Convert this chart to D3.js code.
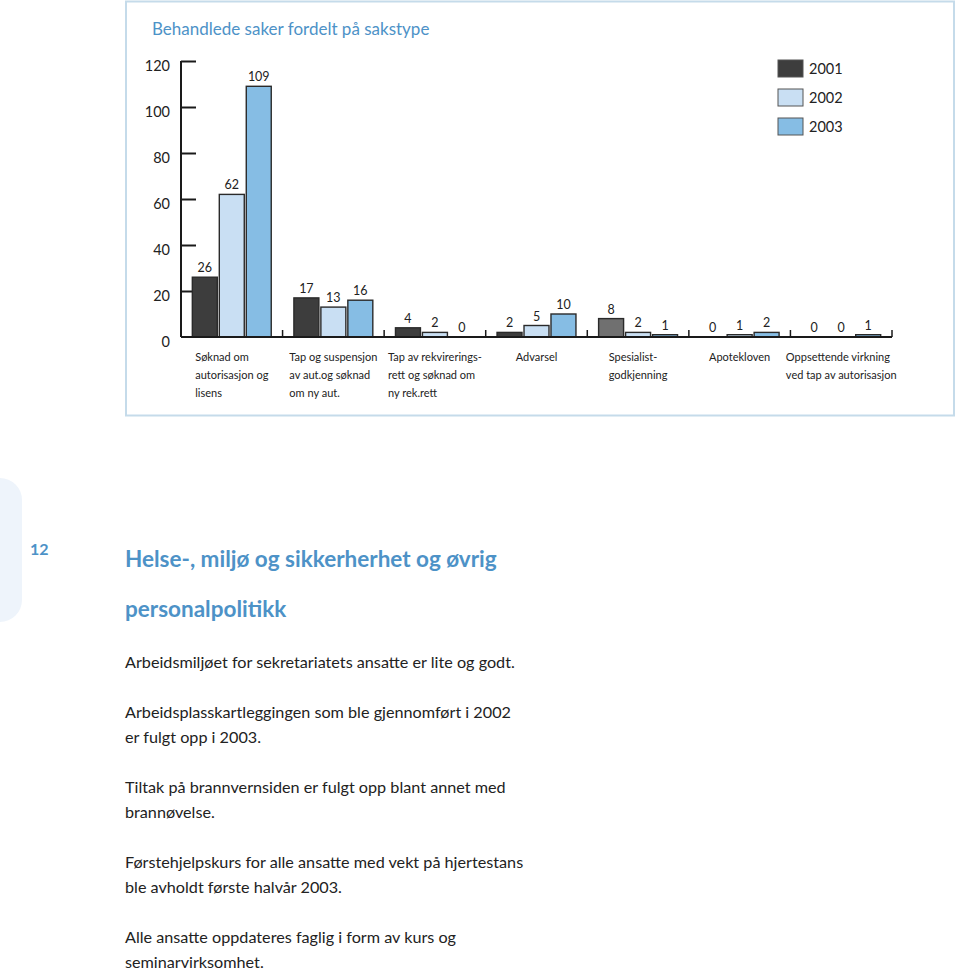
<!DOCTYPE html>
<html><head><meta charset="utf-8">
<script src="https://cdn.jsdelivr.net/npm/d3@7"></script>
<style>body{margin:0;background:#fff}svg{display:block}</style>
</head><body>
<svg id="c" width="960" height="970"></svg>
<script>
const title = "Behandlede saker fordelt på sakstype";
const categories = [
  ["Søknad om","autorisasjon og","lisens"],
  ["Tap og suspensjon","av aut.og søknad","om ny aut."],
  ["Tap av rekvirerings-","rett og søknad om","ny rek.rett"],
  ["Advarsel"],
  ["Spesialist-","godkjenning"],
  ["Apotekloven"],
  ["Oppsettende virkning","ved tap av autorisasjon"]
];
const years = ["2001","2002","2003"];
const values2001 = [26,17,4,2,8,0,0];
const values2002 = [62,13,2,5,2,1,0];
const values2003 = [109,16,0,10,1,2,1];
const yTicks = [0,20,40,60,80,100,120];
const heading = ["Helse-, miljø og sikkerherhet og øvrig","personalpolitikk"];
const pageNo = "12";
const paragraphs = [
  ["Arbeidsmiljøet for sekretariatets ansatte er lite og godt."],
  ["Arbeidsplasskartleggingen som ble gjennomført i 2002","er fulgt opp i 2003."],
  ["Tiltak på brannvernsiden er fulgt opp blant annet med","brannøvelse."],
  ["Førstehjelpskurs for alle ansatte med vekt på hjertestans","ble avholdt første halvår 2003."],
  ["Alle ansatte oppdateres faglig i form av kurs og","seminarvirksomhet."]
];

const series = [values2001, values2002, values2003];
const colors = ["#3d3d3d","#c9dff3","#86bde4"];
const specialColor = {"4-0":"#707070"}; // Spesialist 2001 bar is drawn lighter grey
const FONT = "Lato, 'Open Sans', sans-serif";
const blue = "#4d92c7";

const svg = d3.select("#c");

// chart frame
svg.append("rect").attr("x",126).attr("y",1.5).attr("width",828).attr("height",414)
  .attr("fill","#fff").attr("stroke","#c5dbea").attr("stroke-width",2);

svg.append("text").attr("x",152).attr("y",35).text(title)
  .attr("font-family",FONT).attr("font-size",17).attr("fill",blue);

const y = d3.scaleLinear().domain([0,120]).range([337,61]);
const x0 = d3.scaleBand().domain(d3.range(categories.length)).range([181,892]);
const x1 = d3.scaleBand().domain(years).range([0,x0.bandwidth()]).paddingInner(0.074).paddingOuter(0.42);

// y axis
const yAxis = d3.axisRight(y).tickValues(yTicks.filter(d=>d>0)).tickSize(15).tickFormat("");
const ga = svg.append("g").attr("transform","translate(181,0)").call(yAxis);
ga.select(".domain").attr("d",`M0,${y(120)}V${y(0)}`).attr("stroke","#1a1a1a").attr("stroke-width",2);
ga.selectAll(".tick line").attr("stroke","#1a1a1a").attr("stroke-width",2);
svg.append("g").selectAll("text").data(yTicks).join("text")
  .attr("x",170).attr("y",d=>y(d)+10).attr("text-anchor","end")
  .attr("font-family",FONT).attr("font-size",14.5).attr("fill","#222").text(d=>d);

// bars
const bars = [];
categories.forEach((c,i)=>years.forEach((yr,j)=>bars.push({i,j,yr,v:series[j][i]})));
svg.append("g").selectAll("rect").data(bars.filter(d=>d.v>0)).join("rect")
  .attr("x",d=>x0(d.i)+x1(d.yr))
  .attr("y",d=>y(d.v))
  .attr("width",x1.bandwidth())
  .attr("height",d=>y(0)-y(d.v))
  .attr("fill",d=>specialColor[d.i+"-"+d.j]||colors[d.j])
  .attr("stroke","#2a2a2a").attr("stroke-width",1.4);

svg.append("g").selectAll("text").data(bars).join("text")
  .attr("x",d=>x0(d.i)+x1(d.yr)+x1.bandwidth()/2)
  .attr("y",d=>y(d.v)-5)
  .attr("text-anchor","middle").attr("font-family",FONT).attr("font-size",12.5).attr("fill","#222")
  .text(d=>d.v);

// baseline and group ticks
svg.append("line").attr("x1",181).attr("x2",892).attr("y1",y(0)).attr("y2",y(0))
  .attr("stroke","#1a1a1a").attr("stroke-width",2);
svg.append("g").selectAll("line").data(d3.range(1,categories.length+1)).join("line")
  .attr("x1",d=>d<categories.length?x0(d):892).attr("x2",d=>d<categories.length?x0(d):892)
  .attr("y1",y(0)).attr("y2",y(0)-7).attr("stroke","#1a1a1a").attr("stroke-width",1.5);

// category labels: left-aligned block centred on group
categories.forEach((lines,i)=>{
  const g = svg.append("g");
  const t = g.selectAll("text").data(lines).join("text")
    .attr("y",(d,k)=>361+k*18).attr("font-family",FONT).attr("font-size",11).attr("fill","#222").text(d=>d);
  let w = 0; t.each(function(){w=Math.max(w,this.getComputedTextLength());});
  t.attr("x", x0(i)+x0.bandwidth()/2 - w/2);
});

// legend
const lg = svg.append("g").selectAll("g").data(years).join("g")
  .attr("transform",(d,k)=>`translate(778,${60+k*29})`);
lg.append("rect").attr("width",25).attr("height",17).attr("fill",(d,k)=>colors[k])
  .attr("stroke","#555").attr("stroke-width",1);
lg.append("text").attr("x",31).attr("y",14).attr("font-family",FONT).attr("font-size",14.5).attr("fill","#222").text(d=>d);

// lower page content
svg.append("rect").attr("x",-30).attr("y",478).attr("width",52).attr("height",144).attr("rx",22)
  .attr("fill","#eef4fb");
svg.append("text").attr("x",30).attr("y",555).attr("font-family",FONT).attr("font-weight",700)
  .attr("font-size",16).attr("fill",blue).text(pageNo);
svg.append("g").selectAll("text").data(heading).join("text")
  .attr("x",125).attr("y",(d,k)=>567+k*50).attr("font-family",FONT).attr("font-weight",700)
  .attr("font-size",22.5).attr("fill",blue).text(d=>d);

let yy = 668;
const body = svg.append("g");
paragraphs.forEach(p=>{
  p.forEach((line,k)=>{
    body.append("text").attr("x",125).attr("y",yy+k*25).attr("font-family",FONT)
      .attr("font-size",16.2).attr("fill","#222").text(line);
  });
  yy += p.length*25 + 25;
});
</script>
</body></html>
